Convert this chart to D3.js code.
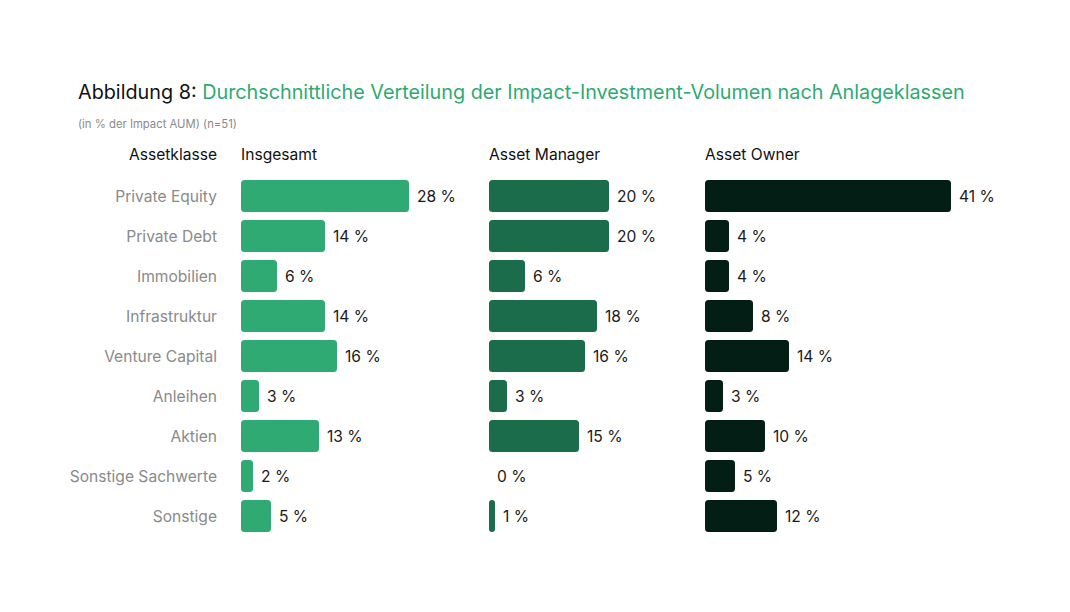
<!DOCTYPE html>
<html lang="de">
<head>
<meta charset="utf-8">
<title>Abbildung 8</title>
<script src="https://d3js.org/d3.v7.min.js"></script>
<style>
  body { margin: 0; background: #fff; }
  svg text { font-family: Inter, "Noto Sans", sans-serif; }
</style>
</head>
<body>
<script>
// Daten
var categories = ["Private Equity", "Private Debt", "Immobilien", "Infrastruktur",
                  "Venture Capital", "Anleihen", "Aktien", "Sonstige Sachwerte", "Sonstige"];
var insgesamt    = [28, 14, 6, 14, 16, 3, 13, 2, 5];
var assetManager = [20, 20, 6, 18, 16, 3, 15, 0, 1];
var assetOwner   = [41, 4, 4, 8, 14, 3, 10, 5, 12];
var seriesNames  = ["Insgesamt", "Asset Manager", "Asset Owner"];

var w = 1070, h = 612;
var svg = d3.select("body").append("svg").attr("width", w).attr("height", h);

// Titel
var title = svg.append("text").attr("x", 78).attr("y", 99).attr("font-size", 19.8);
title.append("tspan").attr("fill", "#111").text("Abbildung 8: ");
title.append("tspan").attr("fill", "#2eaa72")
     .text("Durchschnittliche Verteilung der Impact-Investment-Volumen nach Anlageklassen");

svg.append("text").attr("x", 78).attr("y", 128).attr("font-size", 11.3)
   .attr("fill", "#8a8a8a").text("(in % der Impact AUM) (n=51)");

// Skalen
var y = d3.scaleBand().domain(categories).range([176, 536]).paddingInner(0.2).paddingOuter(0.1);
var x = d3.scaleLinear().domain([0, 1]).range([0, 6]); // 6px pro Prozentpunkt

var columns = [
  { name: seriesNames[0], x0: 241, values: insgesamt,    color: "#2eaa72" },
  { name: seriesNames[1], x0: 489, values: assetManager, color: "#1b6c4a" },
  { name: seriesNames[2], x0: 705, values: assetOwner,   color: "#031e15" }
];

// Kopfzeile
svg.append("text").attr("x", 217).attr("y", 160).attr("text-anchor", "end")
   .attr("font-size", 15.6).attr("fill", "#111").text("Assetklasse");

// Kategorien
svg.selectAll("text.cat").data(categories).enter().append("text")
   .attr("class", "cat")
   .attr("x", 217)
   .attr("y", function(d) { return y(d) + y.bandwidth() / 2; })
   .attr("dy", "0.38em")
   .attr("text-anchor", "end")
   .attr("font-size", 15.6)
   .attr("fill", "#8a8a8a")
   .text(function(d) { return d; });

columns.forEach(function(col) {
  svg.append("text").attr("x", col.x0).attr("y", 160)
     .attr("font-size", 15.6).attr("fill", "#111").text(col.name);

  var g = svg.append("g");
  var rows = categories.map(function(c, i) { return { cat: c, v: col.values[i] }; });

  g.selectAll("rect").data(rows.filter(function(d) { return d.v > 0; })).enter().append("rect")
   .attr("x", col.x0)
   .attr("y", function(d) { return y(d.cat); })
   .attr("width", function(d) { return x(d.v); })
   .attr("height", y.bandwidth())
   .attr("rx", function(d) { return Math.min(3.5, x(d.v) / 2); })
   .attr("fill", col.color);

  g.selectAll("text").data(rows).enter().append("text")
   .attr("x", function(d) { return col.x0 + x(d.v) + 8; })
   .attr("y", function(d) { return y(d.cat) + y.bandwidth() / 2; })
   .attr("dy", "0.38em")
   .attr("font-size", 15.6)
   .attr("fill", "#1a1a1a")
   .text(function(d) { return d.v + " %"; });
});
</script>
</body>
</html>
